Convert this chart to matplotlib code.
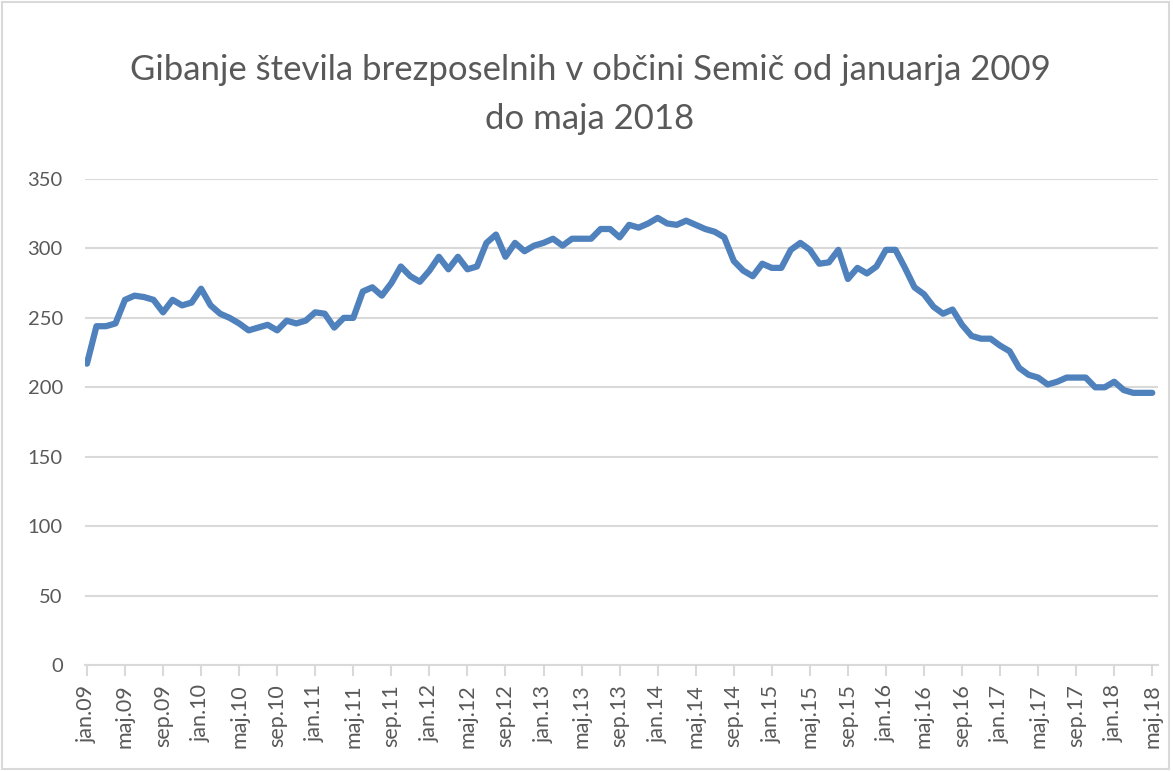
import matplotlib
matplotlib.use('Agg')
import matplotlib.pyplot as plt
from matplotlib.patches import Rectangle

# monthly number of unemployed, jan.09 .. maj.18
unemployed = [
    217, 244, 244, 246, 263, 266, 265, 263, 254, 263, 259, 261,   # 2009
    271, 259, 253, 250, 246, 241, 243, 245, 241, 248, 246, 248,   # 2010
    254, 253, 243, 250, 250, 269, 272, 266, 275, 287, 280, 276,   # 2011
    284, 294, 285, 294, 285, 287, 304, 310, 294, 304, 298, 302,   # 2012
    304, 307, 302, 307, 307, 307, 314, 314, 308, 317, 315, 318,   # 2013
    322, 318, 317, 320, 317, 314, 312, 308, 291, 284, 280, 289,   # 2014
    286, 286, 299, 304, 299, 289, 290, 299, 278, 286, 282, 287,   # 2015
    299, 299, 286, 272, 267, 258, 253, 256, 245, 237, 235, 235,   # 2016
    230, 226, 214, 209, 207, 202, 204, 207, 207, 207, 200, 200,   # 2017
    204, 198, 196, 196, 196,                                      # 2018
]

tick_labels = [
    'jan.09', 'maj.09', 'sep.09', 'jan.10', 'maj.10', 'sep.10',
    'jan.11', 'maj.11', 'sep.11', 'jan.12', 'maj.12', 'sep.12',
    'jan.13', 'maj.13', 'sep.13', 'jan.14', 'maj.14', 'sep.14',
    'jan.15', 'maj.15', 'sep.15', 'jan.16', 'maj.16', 'sep.16',
    'jan.17', 'maj.17', 'sep.17', 'jan.18', 'maj.18',
]
y_ticks = [0, 50, 100, 150, 200, 250, 300, 350]

title = 'Gibanje števila brezposelnih v občini Semič od januarja 2009\ndo maja 2018'

plt.rcParams['font.family'] = ['Lato', 'DejaVu Sans']
grey = '#595959'

fig = plt.figure(figsize=(11.73, 7.71), dpi=100)
ax = fig.add_axes([0.0725, 0.1375, 0.9147, 0.6303])

months = list(range(len(unemployed)))
ax.plot(months, unemployed, color='#4F81BD', linewidth=4.5,
        solid_joinstyle='round', solid_capstyle='round', zorder=3)

ax.set_xlim(-0.2, 112.6)
ax.set_ylim(0, 350)
ax.set_yticks(y_ticks)
ax.set_xticks(months[::4])
ax.set_xticklabels(tick_labels, rotation=90)

ax.grid(axis='y', color='#D9D9D9', linewidth=1.5)
ax.set_axisbelow(True)
for side in ['top', 'right', 'left']:
    ax.spines[side].set_visible(False)
ax.spines['bottom'].set_color('#D9D9D9')
ax.spines['bottom'].set_linewidth(1.5)

ax.tick_params(axis='y', length=0, pad=16, labelsize=14.5, labelcolor=grey)
ax.tick_params(axis='x', length=8, width=1.5, color='#D9D9D9',
               pad=6, labelsize=15.5, labelcolor=grey)

fig.text(0.503, 0.93, title, ha='center', va='top', fontsize=25,
         color=grey, linespacing=1.65)

fig.patches.append(Rectangle((0.002, 0.002), 0.995, 0.995, transform=fig.transFigure,
                             fill=False, edgecolor='#D9D9D9', linewidth=1.5))

fig.savefig('out.png', dpi=100)
